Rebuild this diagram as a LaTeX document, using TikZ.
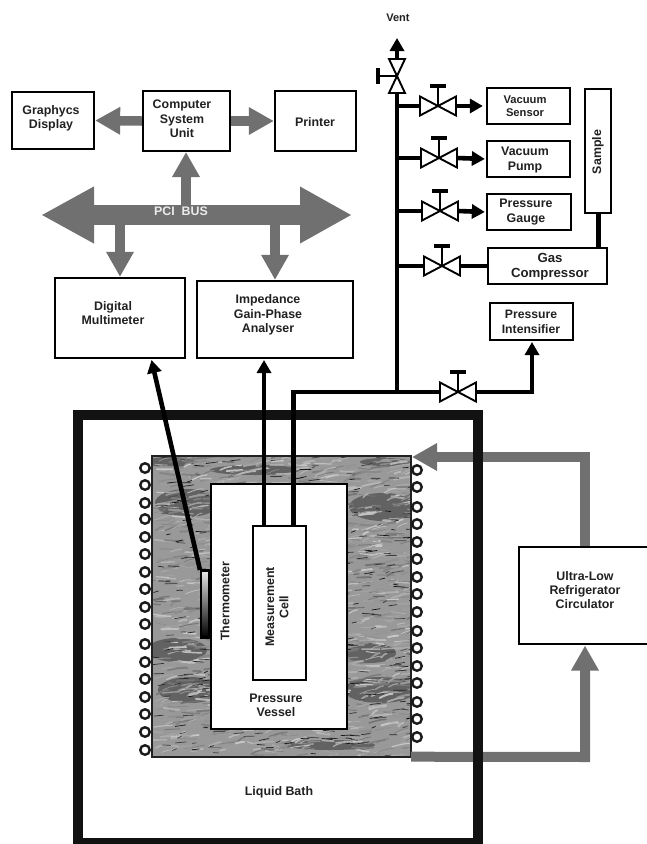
\documentclass[tikz,border=0pt]{standalone}
\usepackage{fontspec}
\setmainfont{Liberation Sans}
\usetikzlibrary{arrows.meta}
\definecolor{busgray}{gray}{0.44}
\definecolor{ink}{gray}{0.13}
\tikzset{
  x=1pt,y=-1pt,
  lbl/.style={font=\bfseries\fontsize{12.4}{14.3}\selectfont,align=center,text=ink},
  unit/.style={rectangle,draw=black,line width=2.3pt,fill=white,inner sep=0pt},
  pipe/.style={line width=4.6pt,draw=black,line join=miter},
  blacktip/.style={-{Triangle[length=13pt,width=14pt]}},
  valvetri/.style={draw=black,line width=1.9pt,fill=white,line join=miter},
  coil/.style={circle,draw=black!90,line width=2.4pt,fill=white,minimum size=9.5pt,inner sep=0pt},
  graypipe/.style={draw=busgray,line width=10pt,line join=miter},
  graytip/.style={-{Triangle[length=25pt,width=26pt]}}
}
% name x1 y1 x2 y2 : a box as a node with the given centre-line corners
\newcommand{\boxat}[5]{\node[unit,minimum width={#4-#2},minimum height={#5-#3}] (#1) at ({(#2+#4)/2},{(#3+#5)/2}) {};}
\newcommand{\hvalve}[3]{% name cx cy
  \coordinate (#1) at (#2,#3);
  \coordinate (#1L) at (#2-18,#3);
  \coordinate (#1R) at (#2+18,#3);
  \draw[valvetri] (#2,#3) -- (#2-18,#3-9.5) -- (#2-18,#3+9.5) -- cycle;
  \draw[valvetri] (#2,#3) -- (#2+18,#3-9.5) -- (#2+18,#3+9.5) -- cycle;
  \draw[line width=1.9pt] (#2,#3) -- (#2,#3-20);
  \draw[line width=4pt] (#2-8,#3-20) -- (#2+8,#3-20);}
\begin{document}
\begin{tikzpicture}
\useasboundingbox (0,0) rectangle (647,844);
\clip (0,0) rectangle (647,844);
\fill[white] (0,0) rectangle (647,844);
% boxes behind the connectors
\boxat{gd}{12}{92}{94}{149}
\boxat{csu}{143}{91}{230}{151}
\boxat{pr}{275}{91}{356}{151}
\boxat{dm}{55}{278}{185}{358}
\boxat{ia}{197}{281}{353}{358}
\boxat{fr}{519}{547}{670}{644}
\coordinate (frtop) at (585,546);
\coordinate (frbot) at (585,645.5);
\coordinate (busL) at (41,215);
\coordinate (busR) at (352,215);
\coordinate (busC) at (186,206);
\coordinate (busA) at (120,224);
\coordinate (busB) at (275,224);
% marble
\node[rectangle,minimum width=259pt,minimum height=300pt,inner sep=0pt] (marble) at (281.5,606.5) {};
\begin{scope}
\clip (152,456.5) rectangle (411,756.5);
\fill[black!40] (152,456) rectangle (411,757);
\foreach \cx/\cy/\rx/\ry in {187/503/32/14,383/507/34/14,177/650/30/12,190/690/32/13,380/690/36/13,370/653/26/10,255/470/45/5,330/745/45/5,170/462/25/5,385/462/25/4}{
  \fill[black!70,opacity=.7] (\cx,\cy) ellipse (\rx pt and \ry pt);}
\pgfmathsetseed{4711}
\foreach \i in {1,...,1500}{
  \pgfmathsetmacro{\px}{152+259*rnd}
  \pgfmathsetmacro{\py}{456+300*rnd}
  \pgfmathsetmacro{\ln}{5+14*rnd}
  \pgfmathsetmacro{\dy}{-5+7*rnd}
  \pgfmathsetmacro{\lw}{0.5+1.6*rnd}
  \pgfmathsetmacro{\sh}{int(22+34*rnd)}
  \draw[black!\sh,line width=\lw pt,line cap=round] (\px,\py) .. controls (\px+\ln/3,\py+\dy/2) and (\px+2*\ln/3,\py+\dy) .. (\px+\ln,\py+\dy);
}
\foreach \i in {1,...,420}{
  \pgfmathsetmacro{\px}{152+259*rnd}
  \pgfmathsetmacro{\py}{456+300*rnd}
  \pgfmathsetmacro{\ln}{3+9*rnd}
  \pgfmathsetmacro{\dy}{-2+3*rnd}
  \pgfmathsetmacro{\sh}{int(70+25*rnd)}
  \draw[black!\sh,line width=.7pt,line cap=round] (\px,\py) -- (\px+\ln,\py+\dy);
}
\end{scope}
\draw[line width=1.9pt,ink] (marble.north west) rectangle (marble.south east);
% refrigerator loop
\draw[graypipe,graytip] (frtop) -- (585,457) -- (412,457);
\draw[graypipe,graytip] (marble.south east) -- (585,757) -- (frbot);
% liquid bath
\node[rectangle,draw=black!93,line width=10pt,minimum width=400pt,minimum height=428pt,inner sep=0pt] (bath) at (278,629) {};
% coils
\foreach \y [count=\n] in {468,485,503,519,537,554,572,589,607,624,644,662,679,697,714,732,750}{
  \node[coil] (cl\n) at (145,\y) {};}
\foreach \y [count=\n] in {470,487,507,524,542,559,577,594,612,631,648,666,683,702,719,737}{
  \node[coil] (cr\n) at (417,\y) {};}
% vessel, cell, thermometer
\boxat{vessel}{211}{484}{347}{729}
\boxat{cell}{253}{526}{306}{680}
\shade[top color=white!90!black,middle color=black!55,bottom color=black] (201,571) rectangle (209,637);
\node[rectangle,draw=black,line width=2.4pt,minimum width=8pt,minimum height=67pt,inner sep=0pt] (therm) at (205,604) {};
\coordinate (cellA) at (264,525);
\coordinate (cellB) at (293.5,525);
\coordinate (thermtop) at (200,570);
\coordinate (dmin) at (151.5,360);
\coordinate (iain) at (264,360);
% bus
\draw[graypipe,line width=20pt,{Triangle[length=53pt,width=53pt]}-{Triangle[length=52pt,width=53pt]}] (busL) -- (busR);
\draw[graypipe,graytip] (busC) -- (186,152);
\draw[graypipe,graytip] (busA) -- (dm.north);
\draw[graypipe,graytip] (busB) -- (ia.north);
\draw[graypipe,line width=9.5pt,graytip] (csu.west) -- (gd.east);
\draw[graypipe,line width=9.5pt,graytip] (csu.east) -- (pr.west);
% right-hand boxes
\boxat{sens}{487}{88}{570}{124}
\boxat{pump}{487}{141}{570}{177}
\boxat{gauge}{487}{194}{571}{230}
\boxat{comp}{488}{248}{607}{284}
\boxat{pint}{490}{303}{573}{340}
\boxat{sample}{585}{89}{611}{213}
% pipes
\coordinate (junction) at (397,392);
\coordinate (tee) at (397,92);
\draw[pipe] (junction) -- (tee);
\draw[pipe] (cellB) -- (293.5,392) -- (junction);
\draw[pipe] (junction) -- (441,392);
\draw[pipe,blacktip] (cellA) -- (iain);
\draw[pipe,blacktip] (thermtop) -- (dmin);
\draw[line width=5pt] (sample.south) -- (sample.south |- comp.north);
% valves
\foreach \v/\yy in {vs/106,vp/158,vg/211,vc/266}{\draw[pipe] (397,\yy) -- (430,\yy);}
\hvalve{vs}{438}{106}
\hvalve{vp}{439}{158}
\hvalve{vg}{440}{211}
\hvalve{vc}{442}{266}
\hvalve{vi}{458}{392}
\draw[pipe,blacktip,shorten >=3pt] (vsR) -- (sens.west);
\draw[pipe,blacktip,shorten >=1pt] (vpR) -- (pump.west);
\draw[pipe,blacktip,shorten >=1pt] (vgR) -- (gauge.west);
\draw[pipe] (vcR) -- (comp.west);
\draw[pipe,blacktip] (viR) -- (532,392) -- (532,342);
% vent valve
\coordinate (venttip) at (397,38);
\draw[pipe,blacktip] (397,60) -- (venttip);
\draw[valvetri] (397,76) -- (389,59) -- (405,59) -- cycle;
\draw[valvetri] (397,76) -- (389,93) -- (405,93) -- cycle;
\draw[line width=1.9pt] (397,76) -- (378,76);
\draw[line width=4pt] (378,68) -- (378,84);
% labels
\node[lbl] at (51,118) {Graphycs\\Display};
\node[lbl] at (182,119) {Computer\\System\\Unit};
\node[lbl] at (315,122.5) {Printer};
\node[lbl] at (113,313) {Digital\\Multimeter};
\node[lbl] at (268,315) {Impedance\\Gain-Phase\\Analyser};
\node[font=\fontsize{12.4}{14}\selectfont\bfseries,text=white!92!black] at (181,211) {PCI\ \ BUS};
\node[lbl,font=\bfseries\fontsize{11.2}{12.5}\selectfont] at (525,106) {Vacuum\\Sensor};
\node[lbl,font=\bfseries\fontsize{12.4}{15}\selectfont] at (525,160) {Vacuum\\Pump};
\node[lbl,font=\bfseries\fontsize{12.4}{15}\selectfont] at (526,212) {Pressure\\Gauge};
\node[lbl,font=\bfseries\fontsize{13.2}{14.5}\selectfont] at (550,267) {Gas\\Compressor};
\node[lbl,font=\bfseries\fontsize{12.2}{14.5}\selectfont] at (531,322) {Pressure\\Intensifier};
\node[lbl,rotate=90] at (598,152) {Sample};
\node[lbl] at (585,590) {Ultra-Low\\Refrigerator\\Circulator};
\node[lbl,rotate=90] at (277,607) {Measurement\\Cell};
\node[lbl,rotate=90] at (225,601) {Thermometer};
\node[lbl] at (276,705) {Pressure\\Vessel};
\node[lbl] at (279,792) {Liquid Bath};
\node[lbl,font=\bfseries\fontsize{11}{13}\selectfont] at (398,18) {Vent};
\end{tikzpicture}
\end{document}
